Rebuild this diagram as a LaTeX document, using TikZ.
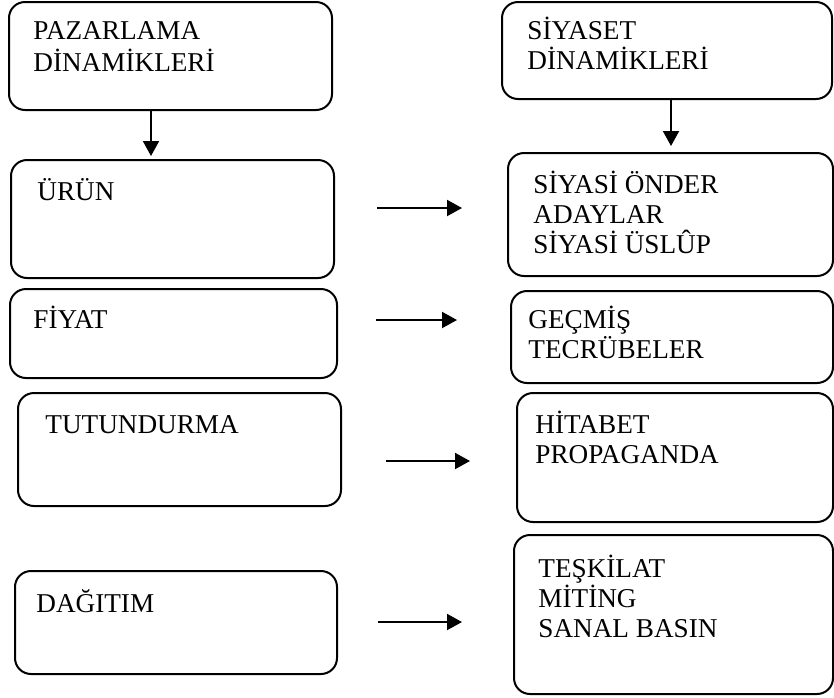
\documentclass[tikz,border=0pt]{standalone}
\usepackage{fontspec}
\setmainfont{Liberation Serif}
\usetikzlibrary{calc,positioning,arrows.meta}

\begin{document}
\begin{tikzpicture}[x=0.5pt, y=-0.5pt,
  dynbox/.style={draw, line width=1pt, rounded corners=8pt, anchor=north west, inner sep=0pt},
  boxtext/.style={anchor=base west, align=left, inner sep=0pt, font=\fontsize{13.6}{15}\selectfont},
  flowarrow/.style={-{Triangle[length=7.5pt,width=8pt]}, line width=1pt}
]
  \useasboundingbox (0,0) rectangle (834,697);
  \node[dynbox, minimum width=161.5pt, minimum height=54pt] (paz) at (8,1) {};
  \node[dynbox, minimum width=165pt, minimum height=48.5pt] (siy) at (501,1) {};
  \node[dynbox, minimum width=161.5pt, minimum height=59pt] (urun) at (10,159) {};
  \node[dynbox, minimum width=162.5pt, minimum height=61.5pt] (onder) at (507,152) {};
  \node[dynbox, minimum width=163.5pt, minimum height=44.5pt] (fiyat) at (9,288) {};
  \node[dynbox, minimum width=161pt, minimum height=46pt] (gecmis) at (510,290) {};
  \node[dynbox, minimum width=161.5pt, minimum height=56.5pt] (tutun) at (17,392) {};
  \node[dynbox, minimum width=158pt, minimum height=64.5pt] (hitabet) at (516,392) {};
  \node[dynbox, minimum width=161pt, minimum height=51.5pt] (dagitim) at (14,570) {};
  \node[dynbox, minimum width=159.5pt, minimum height=79.5pt] (teskilat) at (513,534) {};

  \node[boxtext, font=\fontsize{13.6}{16}\selectfont] (pazT) at (33,71) {PAZARLAMA\\DİNAMİKLERİ};
  \node[boxtext] (siyT) at (527,69) {SİYASET\\DİNAMİKLERİ};
  \node[boxtext] (urunT) at (37,200) {ÜRÜN};
  \node[boxtext] (onderT) at (533,253) {SİYASİ ÖNDER\\ADAYLAR\\SİYASİ ÜSLÛP};
  \node[boxtext] (fiyatT) at (33,328) {FİYAT};
  \node[boxtext] (gecmisT) at (528,358) {GEÇMİŞ\\TECRÜBELER};
  \node[boxtext] (tutunT) at (45,433) {TUTUNDURMA};
  \node[boxtext] (hitabetT) at (535,463) {HİTABET\\PROPAGANDA};
  \node[boxtext] (dagitimT) at (36,612) {DAĞITIM};
  \node[boxtext] (teskilatT) at (538,637) {TEŞKİLAT\\MİTİNG\\SANAL BASIN};

  \coordinate (pazDown) at ($(paz.south west)+(143,0)$);
  \coordinate (siyDown) at ($(siy.south west)+(170,0)$);
  \draw[flowarrow, shorten >=1.5pt] (pazDown) -- (pazDown |- urun.north);
  \draw[flowarrow, shorten >=3pt] (siyDown) -- (siyDown |- onder.north);

  \coordinate (urunA) at (377,208);
  \coordinate (urunB) at (462,208);
  \coordinate (fiyatA) at (376,320);
  \coordinate (fiyatB) at (457,320);
  \coordinate (tutunA) at (386,461);
  \coordinate (tutunB) at (470,461);
  \coordinate (dagitimA) at (378,622);
  \coordinate (dagitimB) at (462,622);
  \draw[flowarrow] (urunA) -- (urunB);
  \draw[flowarrow] (fiyatA) -- (fiyatB);
  \draw[flowarrow] (tutunA) -- (tutunB);
  \draw[flowarrow] (dagitimA) -- (dagitimB);
\end{tikzpicture}
\end{document}
